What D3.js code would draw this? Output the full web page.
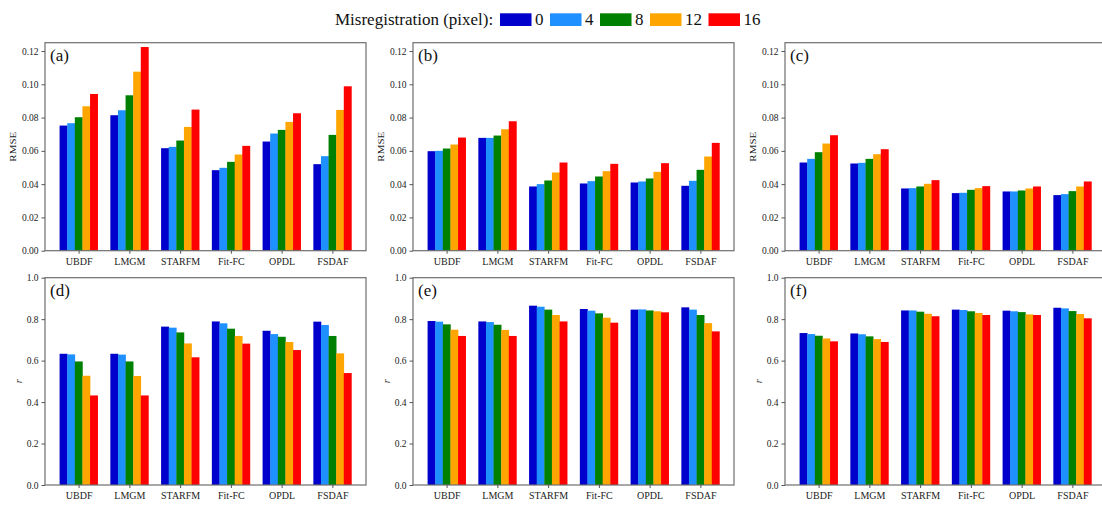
<!doctype html>
<html>
<head>
<meta charset="UTF-8">
<script src="https://cdn.jsdelivr.net/npm/d3@7"></script>
<style>
  body { margin: 0; background: #fff; }
  svg { display: block; font-family: "Liberation Serif", "Times New Roman", serif; }
  .tick text { fill: #222; font-family: "Liberation Serif", "Times New Roman", serif; }
  .tick line { stroke: #555; }
</style>
</head>
<body>
<script>
// categories and series
const methods = ["UBDF", "LMGM", "STARFM", "Fit-FC", "OPDL", "FSDAF"];
const shifts = ["0", "4", "8", "12", "16"];
const colors = ["#0000cd", "#1e90ff", "#008000", "#ffa500", "#ff0000"];

// RMSE values, one row per method, one column per misregistration
const rmseA = [
  [0.0752, 0.0766, 0.0802, 0.0868, 0.0942],
  [0.0814, 0.0844, 0.0934, 0.1076, 0.1224],
  [0.0616, 0.0624, 0.0662, 0.0744, 0.0848],
  [0.0484, 0.0498, 0.0534, 0.0578, 0.0630],
  [0.0656, 0.0704, 0.0726, 0.0774, 0.0826],
  [0.0520, 0.0568, 0.0696, 0.0846, 0.0988]
];
const rmseB = [
  [0.0598, 0.0600, 0.0614, 0.0638, 0.0680],
  [0.0678, 0.0678, 0.0692, 0.0730, 0.0778],
  [0.0386, 0.0400, 0.0422, 0.0470, 0.0530],
  [0.0404, 0.0418, 0.0446, 0.0478, 0.0522],
  [0.0410, 0.0416, 0.0434, 0.0474, 0.0526],
  [0.0390, 0.0420, 0.0486, 0.0566, 0.0648]
];
const rmseC = [
  [0.0530, 0.0552, 0.0592, 0.0644, 0.0694],
  [0.0524, 0.0528, 0.0552, 0.0580, 0.0610],
  [0.0374, 0.0376, 0.0386, 0.0402, 0.0424],
  [0.0346, 0.0348, 0.0366, 0.0376, 0.0388],
  [0.0356, 0.0356, 0.0362, 0.0374, 0.0386],
  [0.0334, 0.0340, 0.0358, 0.0386, 0.0416]
];
// correlation values
const rD = [
  [0.633, 0.630, 0.596, 0.527, 0.432],
  [0.633, 0.629, 0.596, 0.526, 0.432],
  [0.764, 0.759, 0.736, 0.683, 0.616],
  [0.789, 0.780, 0.754, 0.719, 0.682],
  [0.744, 0.728, 0.715, 0.690, 0.651],
  [0.788, 0.772, 0.719, 0.635, 0.540]
];
const rE = [
  [0.791, 0.788, 0.775, 0.749, 0.719],
  [0.789, 0.786, 0.773, 0.748, 0.719],
  [0.865, 0.860, 0.846, 0.820, 0.789],
  [0.849, 0.841, 0.828, 0.807, 0.783],
  [0.846, 0.847, 0.842, 0.838, 0.833],
  [0.857, 0.846, 0.820, 0.781, 0.741]
];
const rF = [
  [0.733, 0.728, 0.720, 0.707, 0.693],
  [0.731, 0.727, 0.717, 0.704, 0.690],
  [0.842, 0.842, 0.836, 0.826, 0.814],
  [0.846, 0.844, 0.838, 0.830, 0.820],
  [0.841, 0.838, 0.834, 0.823, 0.820],
  [0.855, 0.852, 0.839, 0.825, 0.804]
];

const rmseTicks = [0, 0.02, 0.04, 0.06, 0.08, 0.10, 0.12];
const rTicks = [0, 0.2, 0.4, 0.6, 0.8, 1.0];
const panelLabels = ["(a)", "(b)", "(c)", "(d)", "(e)", "(f)"];

const W = 1102, H = 505;
const svg = d3.select("body").append("svg").attr("width", W).attr("height", H);

// layout of the 2 x 3 grid
const colLeft = [45, 413, 785];
const panelW = 321;
const rows = [
  { top: 42.7, bottom: 250.7, max: 0.125, ticks: rmseTicks, fmt: d3.format(".2f"), label: "RMSE", data: [rmseA, rmseB, rmseC] },
  { top: 277.7, bottom: 485, max: 1.0, ticks: rTicks, fmt: d3.format(".1f"), label: "r", data: [rD, rE, rF] }
];

const nBars = shifts.length;
const barW = 0.15;

rows.forEach(function(row, ri) {
  row.data.forEach(function(values, ci) {
    const left = colLeft[ci];
    const g = svg.append("g").attr("transform", "translate(" + left + "," + row.top + ")");
    const h = row.bottom - row.top;

    const x = d3.scaleLinear().domain([-0.6625, methods.length - 1 + 0.6625]).range([0, panelW]);
    const y = d3.scaleLinear().domain([0, row.max]).range([h, 0]);

    // bars
    values.forEach(function(vals, mi) {
      g.selectAll(null)
        .data(vals)
        .enter().append("rect")
          .attr("x", (d, k) => x(mi - nBars * barW / 2 + k * barW))
          .attr("width", x(barW) - x(0) + 0.3)
          .attr("y", d => y(d))
          .attr("height", d => h - y(d))
          .attr("fill", (d, k) => colors[k]);
    });

    // frame
    g.append("rect")
      .attr("width", panelW).attr("height", h)
      .attr("fill", "none").attr("stroke", "#6e6e6e").attr("stroke-width", 1.2);

    // y axis
    const yAxis = g.append("g")
      .call(d3.axisLeft(y).tickValues(row.ticks).tickFormat(row.fmt).tickSize(3.5).tickPadding(3));
    yAxis.attr("font-family", null);
    yAxis.select(".domain").remove();
    yAxis.selectAll("text").attr("font-size", 9.5);

    // x axis
    const xAxis = g.append("g")
      .attr("transform", "translate(0," + h + ")")
      .call(d3.axisBottom(x).tickValues(d3.range(methods.length)).tickFormat(i => methods[i]).tickSize(3).tickPadding(4));
    xAxis.attr("font-family", null);
    xAxis.select(".domain").remove();
    xAxis.selectAll("text").attr("font-size", 10);

    // y label
    const yl = g.append("text")
      .attr("transform", "translate(" + (ri === 0 ? -29 : -23) + "," + (h / 2) + ") rotate(-90)")
      .attr("text-anchor", "middle")
      .attr("font-size", ri === 0 ? 8 : 10)
      .attr("fill", "#222")
      .text(row.label);
    if (ri === 0) yl.attr("textLength", 30).attr("lengthAdjust", "spacingAndGlyphs");
    else yl.attr("font-style", "italic");

    // panel label
    g.append("text")
      .attr("x", 5).attr("y", 18)
      .attr("font-size", 17)
      .attr("fill", "#111")
      .text(panelLabels[ri * 3 + ci]);
  });
});

// legend
const legend = svg.append("g");
legend.append("text")
  .attr("x", 335).attr("y", 24.5)
  .attr("font-size", 17).attr("fill", "#111")
  .text("Misregistration (pixel):");
let lx = 500;
shifts.forEach(function(s, k) {
  legend.append("rect")
    .attr("x", lx).attr("y", 13.3)
    .attr("width", 31.5).attr("height", 12.7)
    .attr("fill", colors[k]);
  const t = legend.append("text")
    .attr("x", lx + 35).attr("y", 25)
    .attr("font-size", 17).attr("fill", "#111")
    .text(s);
  lx = lx + 35 + t.node().getComputedTextLength() + 6.5;
});
</script>
</body>
</html>
